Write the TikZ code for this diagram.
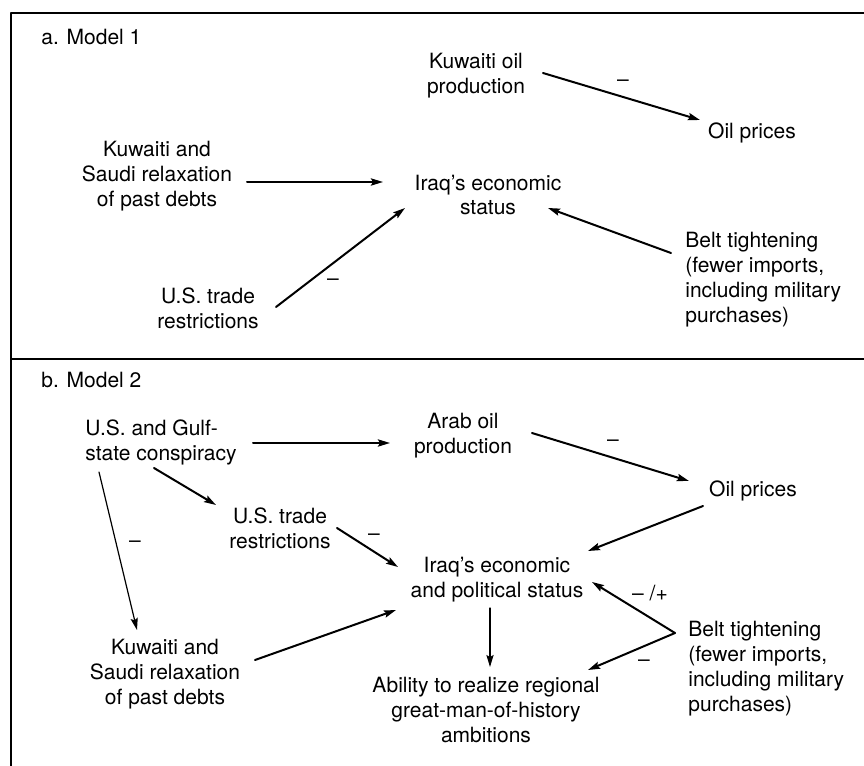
\documentclass[tikz,border=0pt]{standalone}
\usepackage{fontspec}
\setmainfont{TeX Gyre Heros}
\usetikzlibrary{arrows.meta,calc}

\begin{document}
\begin{tikzpicture}[x=0.5pt,y=-0.5pt,>={Stealth[length=6pt,width=3.6pt,inset=1pt]},line cap=round,line join=round,
    every node/.style={font={\fontsize{10.5pt}{12.5pt}\selectfont},inner sep=0pt,align=center},
    link/.style={->,line width=1pt},
    thinlink/.style={->,line width=0.6pt},
    frame/.style={line width=1.3pt,line cap=butt}]
    \useasboundingbox (0,0) rectangle (864,766);
    \draw[frame] (864,13) -- (11,13) -- (11,766);
    \draw[frame] (11,359) -- (864,359);

    % a. Model 1
    \node[anchor=west] (titleA) at (41,37) {a. Model 1};
    \node (kuwOilA) at (476,76) {Kuwaiti oil\\production};
    \node (oilA) at (752,133) {Oil prices};
    \node (debtA) at (157,176) {Kuwaiti and\\Saudi relaxation\\of past debts};
    \node (iraqA) at (488,195) {Iraq's economic\\status};
    \node (tradeA) at (208,308) {U.S. trade\\restrictions};
    \node[anchor=west,align=left] (beltA) at (685,280) {Belt tightening\\(fewer imports,\\including military\\purchases)};
    \draw[link] ($(kuwOilA)+(67,-3)$) -- ($(oilA)+(-52,-13)$);
    \draw[link] ($(debtA)+(90,6)$) -- ($(iraqA)+(-105,-13)$);
    \draw[link] ($(tradeA)+(68,-1)$) -- ($(iraqA)+(-83,13)$);
    \draw[link] ($(beltA.west)+(-14,-27)$) -- ($(iraqA)+(60,13)$);

    % b. Model 2
    \node[anchor=west] (titleB) at (41,380) {b. Model 2};
    \node[anchor=west,align=left] (plotB) at (85,442) {U.S. and Gulf-\\state conspiracy};
    \node (arabB) at (463,436) {Arab oil\\production};
    \node (oilB) at (753,491) {Oil prices};
    \node (tradeB) at (280,528) {U.S. trade\\restrictions};
    \node (iraqB) at (497,580) {Iraq's economic\\and political status};
    \node (debtB) at (165,674) {Kuwaiti and\\Saudi relaxation\\of past debts};
    \node (ambB) at (486,710) {Ability to realize regional\\great-man-of-history\\ambitions};
    \node[anchor=west,align=left] (beltB) at (688,669) {Belt tightening\\(fewer imports,\\including military\\purchases)};
    \draw[link] ($(plotB.west)+(168,1)$) -- ($(arabB)+(-73,7)$);
    \draw[link] ($(arabB)+(69,-3)$) -- ($(oilB)+(-64,-10)$);
    \draw[link] ($(oilB)+(-50,15)$) -- ($(iraqB)+(91,-29)$);
    \draw[link] ($(plotB.west)+(69,26)$) -- ($(tradeB)+(-64,-23)$);
    \draw[link] ($(tradeB)+(57,0)$) -- ($(iraqB)+(-99,-13)$);
    \draw[thinlink] ($(plotB.west)+(14,30)$) -- ($(debtB)+(-28,-44)$);
    \draw[link] ($(debtB)+(90,-14)$) -- ($(iraqB)+(-101,30)$);
    \draw[thinlink] ($(iraqB)+(-7,28)$) -- ($(ambB)+(4,-43)$);
    \draw[link] ($(beltB.west)+(-13,-36)$) -- ($(iraqB)+(95,2)$);
    \draw[link] ($(beltB.west)+(-13,-36)$) -- ($(ambB)+(102,-40)$);

    % signs
    \foreach \nm/\x/\y in {negA1/623/83,negA2/333/282,negB1/613/443,negB2/374/537,negB3/135/544,negB4/644/663}
        \node (\nm) at (\x,\y) {\textendash};
    \node (mixB) at (650,593) {\textendash\ /+};
\end{tikzpicture}
\end{document}
